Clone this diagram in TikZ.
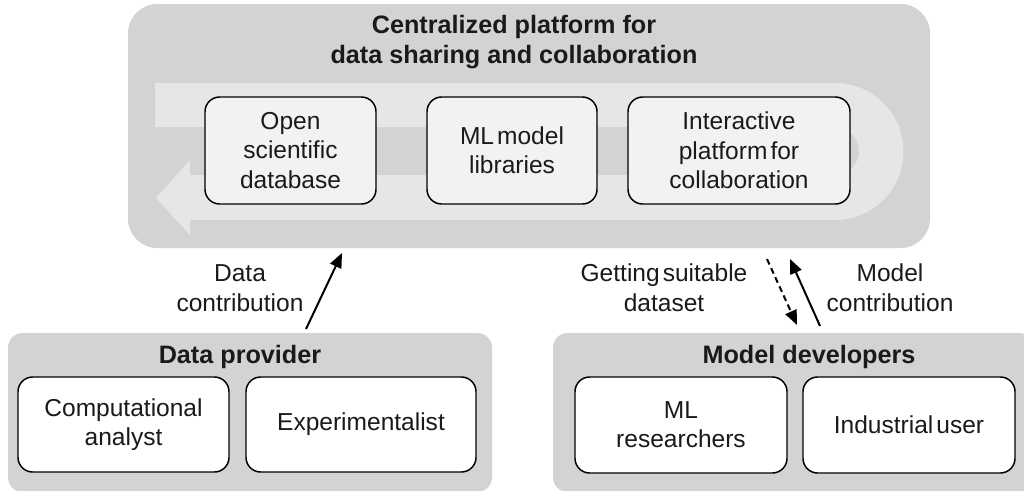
\documentclass[tikz,border=0pt]{standalone}
\usepackage{fontspec}
\setmainfont{Liberation Sans}[WordSpace=0.45]
\newfontfamily\tfont{Liberation Sans}
\usetikzlibrary{arrows.meta}
\definecolor{boxgray}{HTML}{D3D3D3}
\definecolor{bandgray}{HTML}{E6E6E6}
\definecolor{innerfill}{HTML}{F2F2F2}
\definecolor{txt}{HTML}{1A1A1A}
\tikzset{
  container/.style={fill=boxgray, draw=none, rounded corners=11pt, inner sep=0pt},
  bigcontainer/.style={container, rounded corners=22pt},
  innerbox/.style={draw=black, line width=1.1pt, rounded corners=11pt, fill=innerfill,
    align=center, inner sep=0pt, text=txt,
    font=\fontsize{18.4pt}{22pt}\selectfont},
  whitebox/.style={innerbox, fill=white},
  titletext/.style={align=center, inner sep=0pt, text=txt,
    font=\tfont\bfseries\fontsize{18.9pt}{22.5pt}\selectfont},
  labeltext/.style={align=center, inner sep=0pt, text=txt,
    font=\fontsize{18.4pt}{22.5pt}\selectfont},
  flow/.style={line width=1.5pt, -{Triangle[length=11pt,width=9pt]}},
}
\begin{document}
\begin{tikzpicture}[x=0.75pt, y=-0.75pt]
\useasboundingbox (0,0) rectangle (1024,490);
% platform container
\node[bigcontainer, minimum width=601.5pt, minimum height=183pt] (platform) at (529,126) {};
\node[titletext] (ptitle) at (514,42) {Centralized platform for\\data sharing and collaboration};
% U-shaped cycle band
\fill[bandgray] (155,83) -- (835,83) arc[start angle=-90, end angle=90, radius=68.5]
  -- (190,220) -- (190,235) -- (156,198) -- (190,160) -- (190,175) -- (835,175)
  arc[start angle=90, end angle=-90, radius=24] -- (155,127) -- cycle;
% inner boxes
\node[innerbox, minimum width=128.25pt, minimum height=80.25pt] (db) at (290.5,150.5) {Open\\scientific\\database};
\node[innerbox, minimum width=127.5pt, minimum height=80.25pt] (lib) at (512,150.5) {ML model\\libraries};
\node[innerbox, minimum width=166.5pt, minimum height=80.25pt] (inter) at (739,150.5) {Interactive\\platform for\\collaboration};
% bottom containers
\node[container, minimum width=363pt, minimum height=119.25pt] (prov) at (250,412.5) {};
\node[titletext] (provt) at (240,357) {Data provider};
\node[whitebox, minimum width=158.25pt, minimum height=71.25pt] (comp) at (123.5,424.5) {Computational\\analyst};
\node[whitebox, minimum width=172.5pt, minimum height=71.25pt] (exp) at (361,424.5) {Experimentalist};
\node[container, minimum width=360.75pt, minimum height=119.25pt] (dev) at (793.5,412.5) {};
\node[titletext] (devt) at (809,357) {Model developers};
\node[whitebox, minimum width=159pt, minimum height=72pt] (mlr) at (681,425) {ML\\researchers};
\node[whitebox, minimum width=159pt, minimum height=72pt] (ind) at (909,425) {Industrial user};
% arrow end points
\coordinate (dcS) at (306,329);
\coordinate (dcE) at (342,253);
\coordinate (gsS) at (767,259);
\coordinate (gsE) at (797,325);
\coordinate (mcS) at (820,326);
\coordinate (mcE) at (790,259);
\draw[flow] (dcS) -- (dcE);
\draw[flow, dash pattern=on 4.5pt off 3pt] (gsS) -- (gsE);
\draw[flow] (mcS) -- (mcE);
% labels
\node[labeltext] (dcl) at (240,288) {Data\\contribution};
\node[labeltext] (gsl) at (664,288) {Getting suitable\\dataset};
\node[labeltext] (mcl) at (890,288) {Model\\contribution};
\end{tikzpicture}
\end{document}
